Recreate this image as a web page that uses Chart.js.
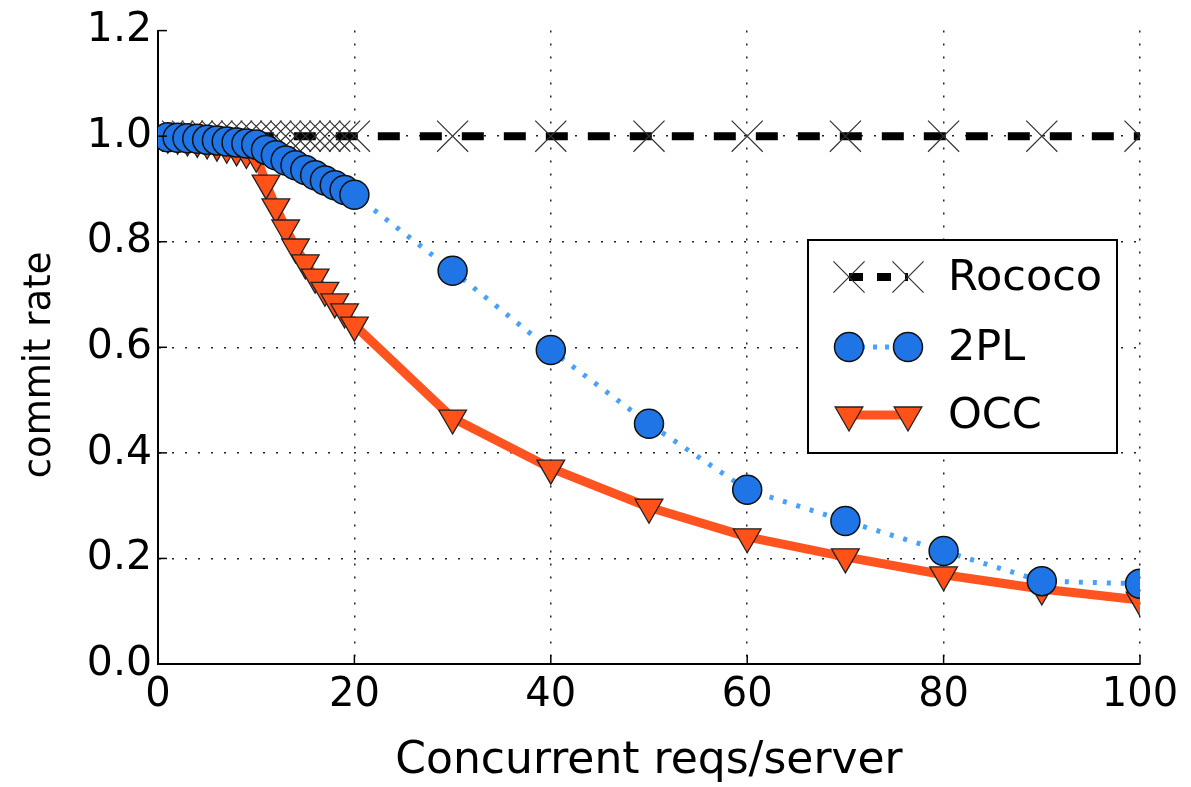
<!DOCTYPE html>
<html>
<head>
<meta charset="utf-8">
<script src="https://cdn.jsdelivr.net/npm/chart.js@4/dist/chart.umd.min.js"></script>
<style>
  html, body { margin: 0; padding: 0; background: #fff; }
  #wrap { width: 1191px; height: 787px; position: relative; }
</style>
</head>
<body>
<div id="wrap"><canvas id="c" width="1191" height="787"></canvas></div>
<script>
// ---- data ----
const xRococo = [1,2,3,4,5,6,7,8,9,10,11,12,13,14,15,16,17,18,19,20,30,40,50,60,70,80,90,100];
const yRococo = [1,1,1,1,1,1,1,1,1,1,1,1,1,1,1,1,1,1,1,1,1,1,1,1,1,1,1,1];

const x2PL = [1,2,3,4,5,6,7,8,9,10,11,12,13,14,15,16,17,18,19,20,30,40,50,60,70,80,90,100];
const y2PL = [0.998,0.997,0.996,0.995,0.993,0.992,0.99,0.988,0.986,0.984,0.974,0.964,0.954,0.945,0.936,0.926,0.916,0.907,0.898,0.889,0.745,0.595,0.455,0.33,0.271,0.214,0.157,0.152];

const xOCC = [1,2,3,4,5,6,7,8,9,10,11,12,13,14,15,16,17,18,19,20,30,40,50,60,70,80,90,100];
const yOCC = [0.998,0.996,0.993,0.99,0.987,0.983,0.979,0.974,0.969,0.962,0.911,0.866,0.826,0.79,0.76,0.733,0.708,0.686,0.667,0.642,0.466,0.371,0.297,0.241,0.203,0.169,0.142,0.121];

const xTicks = [0,20,40,60,80,100];
const yTicks = [0.0,0.2,0.4,0.6,0.8,1.0,1.2];
const seriesNames = ['Rococo','2PL','OCC'];
const xTitle = 'Concurrent reqs/server';
const yTitle = 'commit rate';

const FONT = "'DejaVu Sans', 'Liberation Sans', sans-serif";

function pts(xs, ys){ return xs.map((x,i)=>({x:x, y:ys[i]})); }

const innerTicks = {
  id: 'innerTicks',
  afterDatasetsDraw(chart){
    const ctx = chart.ctx, xs = chart.scales.x, ys = chart.scales.y, a = chart.chartArea;
    ctx.save();
    ctx.strokeStyle = '#000'; ctx.lineWidth = 1.5;
    xTicks.forEach(v=>{ const px = xs.getPixelForValue(v);
      ctx.beginPath(); ctx.moveTo(px, a.bottom); ctx.lineTo(px, a.bottom-9); ctx.stroke(); });
    yTicks.forEach(v=>{ const py = ys.getPixelForValue(v);
      ctx.beginPath(); ctx.moveTo(a.left, py); ctx.lineTo(a.left+9, py); ctx.stroke(); });
    ctx.restore();
  }
};

const legendPlugin = {
  id: 'customLegend',
  afterDraw(chart){
    const ctx = chart.ctx;
    const bx = 808, by = 240, bw = 309, bh = 213;
    ctx.save();
    ctx.fillStyle = '#fff';
    ctx.fillRect(bx, by, bw, bh);
    ctx.strokeStyle = '#000'; ctx.lineWidth = 2;
    ctx.strokeRect(bx, by, bw, bh);
    const rowY = [277, 347, 415];
    [0,1,2].forEach((di, r)=>{
      const ds = chart.data.datasets[di];
      const y = rowY[r];
      const x1 = 849, x2 = 908;
      ctx.save();
      ctx.strokeStyle = ds.borderColor; ctx.lineWidth = ds.borderWidth;
      ctx.setLineDash(ds.legendDash || []);
      ctx.beginPath(); ctx.moveTo(x1, y); ctx.lineTo(x2, y); ctx.stroke();
      ctx.restore();
      [x1, x2].forEach(px=>{
        ctx.save();
        ctx.fillStyle = ds.pointBackgroundColor;
        ctx.strokeStyle = ds.pointBorderColor;
        ctx.lineWidth = ds.pointBorderWidth;
        Chart.helpers.drawPoint(ctx, {
          pointStyle: ds.pointStyle, rotation: ds.pointRotation || 0,
          radius: ds.pointRadius, borderWidth: ds.pointBorderWidth
        }, px, y);
        ctx.restore();
      });
      ctx.fillStyle = '#000';
      ctx.font = '43px ' + FONT;
      ctx.textBaseline = 'middle';
      ctx.textAlign = 'left';
      ctx.fillText(seriesNames[di], 948, y + 2);
    });
    ctx.restore();
  }
};

new Chart(document.getElementById('c'), {
  type: 'line',
  data: {
    datasets: [
      {
        label: seriesNames[0], data: pts(xRococo, yRococo), order: 1,
        borderColor: '#000', borderWidth: 8, borderDash: [22, 20], legendDash: [14, 14],
        pointStyle: 'crossRot', pointRadius: 22, pointBorderWidth: 1.2,
        pointBorderColor: '#333', pointBackgroundColor: '#333',
        tension: 0, fill: false
      },
      {
        label: seriesNames[1], data: pts(x2PL, y2PL), order: 0,
        borderColor: '#4aa0ff', borderWidth: 5, borderDash: [4, 10], legendDash: [4, 8],
        pointStyle: 'circle', pointRadius: 14.5, pointBorderWidth: 1.5,
        pointBorderColor: '#111', pointBackgroundColor: '#1f74e6',
        tension: 0, fill: false
      },
      {
        label: seriesNames[2], data: pts(xOCC, yOCC), order: 2,
        borderColor: '#ff5320', borderWidth: 9,
        pointStyle: 'triangle', pointRotation: 180, pointRadius: 16, pointBorderWidth: 1.3,
        pointBorderColor: '#222', pointBackgroundColor: '#ff5118',
        tension: 0, fill: false
      }
    ]
  },
  options: {
    responsive: false,
    animation: false,
    events: [],
    layout: { padding: { left: 0, top: 30, right: 51, bottom: 0 } },
    plugins: { legend: { display: false }, tooltip: { enabled: false } },
    scales: {
      x: {
        type: 'linear', min: 0, max: 100,
        afterBuildTicks(s){ s.ticks = xTicks.map(v=>({value:v})); },
        afterFit(s){ s.height = 123; },
        ticks: { font: { family: FONT, size: 40 }, color: '#000', padding: 8, maxRotation: 0 },
        grid: { color: (c)=> (c.tick && c.tick.value === 0) ? 'rgba(0,0,0,0)' : '#222', lineWidth: 1.5, drawTicks: false },
        border: { display: true, color: '#000', width: 2, dash: [2, 11] },
        title: { display: true, text: xTitle, font: { family: FONT, size: 44, lineHeight: 1.1 }, color: '#000', padding: { top: 4, bottom: 1 } }
      },
      y: {
        type: 'linear', min: 0, max: 1.2,
        afterBuildTicks(s){ s.ticks = yTicks.map(v=>({value:v})); },
        afterFit(s){ s.width = 158; },
        ticks: { font: { family: FONT, size: 41 }, color: '#000', padding: 6,
          callback: (v)=> Number(v).toFixed(1) },
        grid: { color: (c)=> (c.tick && (c.tick.value === 0 || Math.abs(c.tick.value - 1.2) < 1e-9)) ? 'rgba(0,0,0,0)' : '#222', lineWidth: 1.5, drawTicks: false },
        border: { display: true, color: '#000', width: 2, dash: [2, 11] },
        title: { display: true, text: yTitle + '   ', font: { family: FONT, size: 37 }, color: '#000', padding: { top: 18, bottom: 0 } }
      }
    }
  },
  plugins: [innerTicks, legendPlugin]
});
</script>
</body>
</html>
